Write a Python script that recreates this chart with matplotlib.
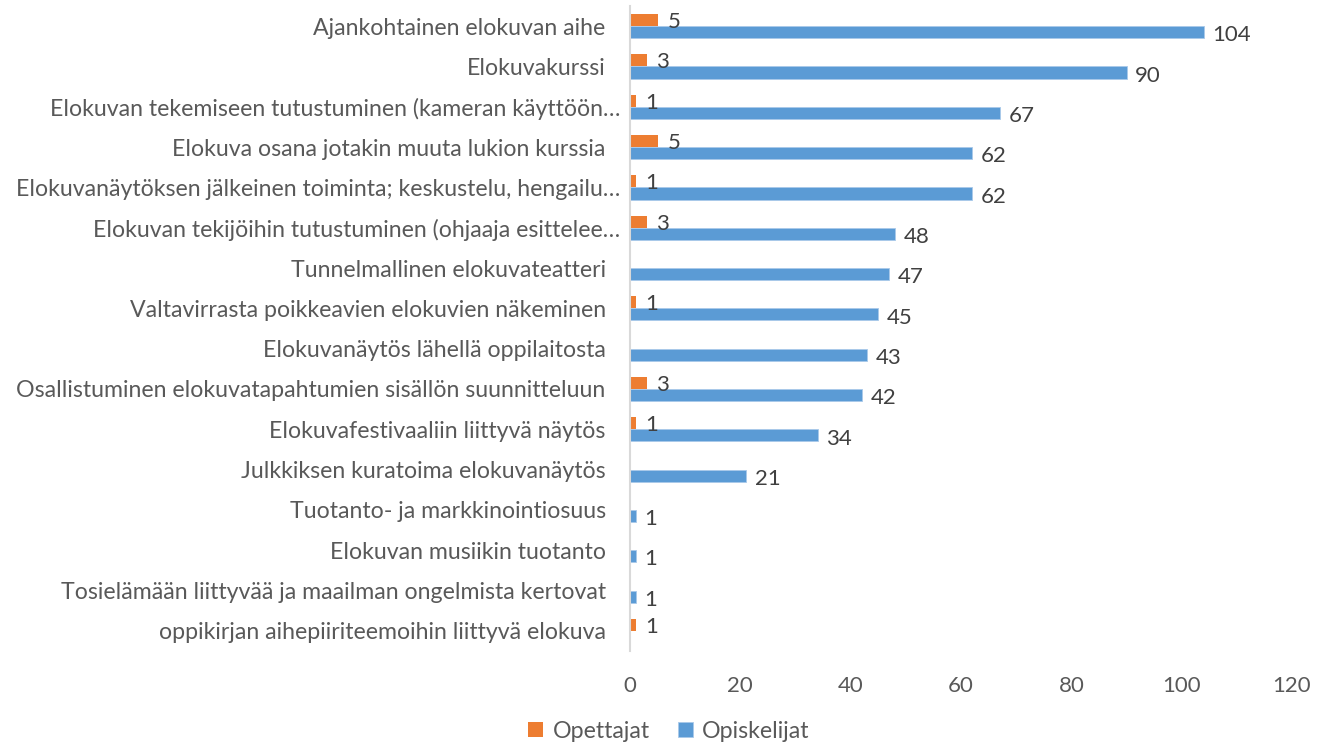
import matplotlib
matplotlib.use("Agg")
import matplotlib.pyplot as plt
import numpy as np

categories = [
    "Ajankohtainen elokuvan aihe",
    "Elokuvakurssi",
    "Elokuvan tekemiseen tutustuminen (kameran käyttöön…",
    "Elokuva osana jotakin muuta lukion kurssia",
    "Elokuvanäytöksen jälkeinen toiminta; keskustelu, hengailu…",
    "Elokuvan tekijöihin tutustuminen (ohjaaja esittelee…",
    "Tunnelmallinen elokuvateatteri",
    "Valtavirrasta poikkeavien elokuvien näkeminen",
    "Elokuvanäytös lähellä oppilaitosta",
    "Osallistuminen elokuvatapahtumien sisällön suunnitteluun",
    "Elokuvafestivaaliin liittyvä näytös",
    "Julkkiksen kuratoima elokuvanäytös",
    "Tuotanto- ja markkinointiosuus",
    "Elokuvan musiikin tuotanto",
    "Tosielämään liittyvää ja maailman ongelmista kertovat",
    "oppikirjan aihepiiriteemoihin liittyvä elokuva",
]
opettajat = [5, 3, 1, 5, 1, 3, 0, 1, 0, 3, 1, 0, 0, 0, 0, 1]
opiskelijat = [104, 90, 67, 62, 62, 48, 47, 45, 43, 42, 34, 21, 1, 1, 1, 0]
truncated = [2, 4, 5]

FONT = "Lato"
FS = 16.7
FSN = 16
TXT = "#595959"
LBL = "#404040"
ORANGE = "#ED7D31"
BLUE = "#5B9BD5"

fig = plt.figure(figsize=(13.27, 7.44), dpi=100)
ax = fig.add_axes([630/1327, 1-651/744, (1292-630)/1327, (651-6)/744])

y = np.arange(len(categories))
h = 0.3
ax.barh(y - h/2, opettajat, height=h, color=ORANGE, label="Opettajat")
ax.barh(y + h/2, opiskelijat, height=h, color=BLUE, edgecolor="#a9c9ea", linewidth=0.6, label="Opiskelijat")

for i in range(len(categories)):
    if opettajat[i] > 0:
        ax.text(opettajat[i] + 1.8, y[i] - h/2 + 0.05, str(opettajat[i]), va="center", ha="left",
                fontsize=FSN, color=LBL, family=FONT)
    if opiskelijat[i] > 0:
        ax.text(opiskelijat[i] + 1.6, y[i] + h/2 + 0.08, str(opiskelijat[i]), va="center", ha="left",
                fontsize=FSN, color=LBL, family=FONT)

ax.set_xlim(0, 120)
ax.set_ylim(len(categories) - 0.5, -0.5)
ax.set_xticks(np.arange(0, 121, 20))
ax.set_yticks(y)
ax.set_yticklabels(categories, fontsize=FS, color=TXT, family=FONT)
for lab in ax.get_xticklabels():
    lab.set_fontsize(FSN); lab.set_color(TXT); lab.set_family(FONT)
ax.tick_params(axis="both", length=0)
ax.tick_params(axis="x", pad=18)
for i, t in enumerate(ax.yaxis.get_major_ticks()):
    t.set_pad(7 if i in truncated else 17.5)

for s in ["top", "right", "bottom"]:
    ax.spines[s].set_visible(False)
ax.spines["left"].set_color("#d9d9d9")
ax.spines["left"].set_linewidth(1.5)

leg = fig.legend(loc="center", bbox_to_anchor=(669/1327, 1-731/744), ncol=2, frameon=False,
                 prop={"family": FONT, "size": FS}, handlelength=0.65, handleheight=0.65,
                 handletextpad=0.4, columnspacing=1.2)
for t in leg.get_texts():
    t.set_color(TXT)

fig.savefig("out.png", dpi=100)
